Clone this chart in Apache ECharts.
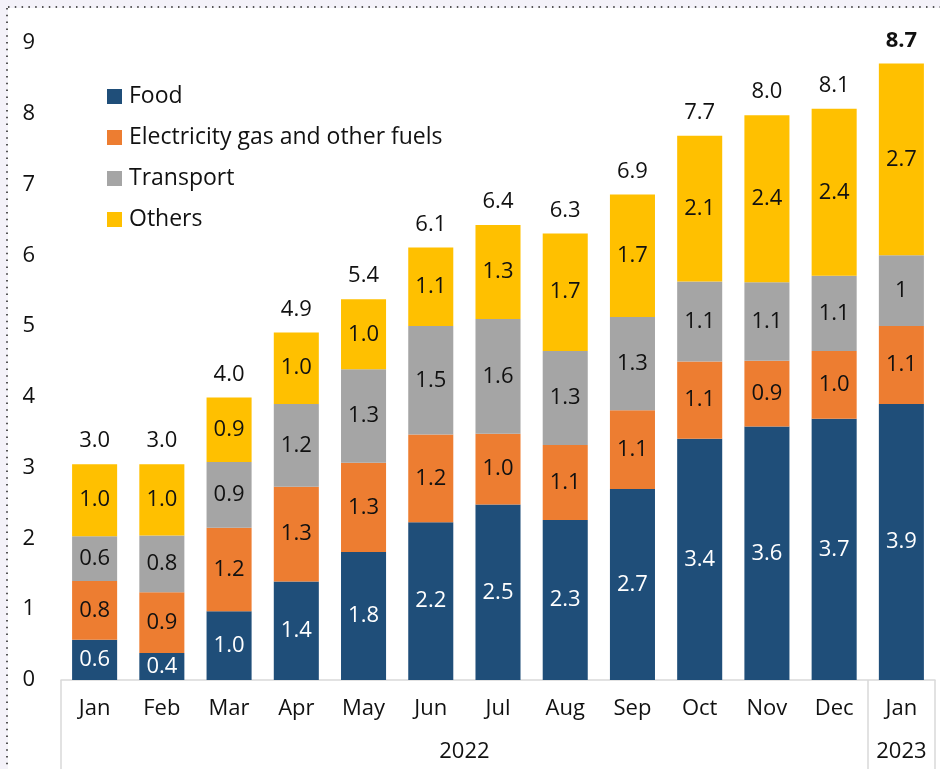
<!DOCTYPE html>
<html>
<head>
<meta charset="utf-8">
<title>chart</title>
<script src="https://cdn.jsdelivr.net/npm/echarts@6/dist/echarts.min.js"></script>
<style>
  html, body { margin: 0; padding: 0; background: #f4f2f9; }
  #main { width: 940px; height: 769px; }
</style>
</head>
<body>
<div id="main"></div>
<script>
// ==================================================
// data
var months = ['Jan', 'Feb', 'Mar', 'Apr', 'May', 'Jun', 'Jul', 'Aug', 'Sep', 'Oct', 'Nov', 'Dec', 'Jan'];
var years = ['2022', '2023'];
var yearMonthCount = [12, 1];

var food = [0.57, 0.38, 0.97, 1.39, 1.81, 2.23, 2.48, 2.26, 2.70, 3.41, 3.58, 3.69, 3.90];
var elec = [0.83, 0.86, 1.18, 1.34, 1.26, 1.24, 1.00, 1.06, 1.11, 1.09, 0.93, 0.96, 1.10];
var transport = [0.63, 0.80, 0.93, 1.17, 1.32, 1.53, 1.62, 1.33, 1.32, 1.13, 1.11, 1.06, 1.00];
var others = [1.02, 1.01, 0.91, 1.01, 0.99, 1.11, 1.33, 1.66, 1.73, 2.06, 2.36, 2.36, 2.71];
var totals = ['3.0', '3.0', '4.0', '4.9', '5.4', '6.1', '6.4', '6.3', '6.9', '7.7', '8.0', '8.1', '8.7'];

var seriesNames = ['Food', 'Electricity gas and other fuels', 'Transport', 'Others'];
var colors = ['#1f4e79', '#ed7d31', '#a5a5a5', '#ffc000'];

var FONT = '"Open Sans", "Noto Sans", sans-serif';
var FS = 22;

// ==================================================
// year groups -> boundaries + label centers
var yearStart = [];
var yearCenter = {};
var acc = 0;
for (var y = 0; y < years.length; y++) {
  yearStart.push(acc);
  yearCenter[acc + yearMonthCount[y] / 2] = years[y];
  acc += yearMonthCount[y];
}

// 分段标签
function segLabel(color) {
  return {
    show: true,
    position: 'inside',
    color: color,
    fontSize: FS,
    fontFamily: FONT,
    formatter: function (p) {
      // Jan 2023 transport is shown as "1" in the source
      if (p.seriesName === 'Transport' && p.dataIndex === months.length - 1) return '1';
      return p.value.toFixed(1);
    }
  };
}

var series = [];
var vals = [food, elec, transport, others];
for (var s = 0; s < vals.length; s++) {
  series.push({
    name: seriesNames[s],
    type: 'bar',
    stack: 'total',
    barCategoryGap: '33%',
    itemStyle: { color: colors[s] },
    label: segLabel(s === 0 ? '#ffffff' : '#111111'),
    data: vals[s]
  });
}

// total on top
series.push({
  name: 'Total',
  type: 'bar',
  stack: 'total',
  itemStyle: { color: 'transparent' },
  label: {
    show: true,
    position: 'top',
    distance: 12,
    color: '#111111',
    fontSize: FS,
    fontFamily: FONT,
    formatter: function (p) { return totals[p.dataIndex]; }
  },
  data: totals.map(function (t, i) {
    var item = { value: 0 };
    if (i === totals.length - 1) item.label = { fontWeight: 'bold' };
    return item;
  })
});

var chart = echarts.init(document.getElementById('main'));

chart.setOption({
  animation: false,
  backgroundColor: 'transparent',
  textStyle: { fontFamily: FONT },
  graphic: [
    { type: 'rect', shape: { x: 8, y: 8, width: 940, height: 769 }, style: { fill: '#ffffff' }, silent: true, z: -10 },
    { type: 'line', shape: { x1: 8, y1: 7, x2: 940, y2: 7 }, style: { stroke: '#555', lineWidth: 2, lineDash: [1.5, 5.3] }, silent: true },
    { type: 'line', shape: { x1: 7, y1: 8, x2: 7, y2: 769 }, style: { stroke: '#555', lineWidth: 2, lineDash: [1.5, 5.3] }, silent: true }
  ],
  legend: {
    data: seriesNames,
    orient: 'vertical',
    left: 102,
    top: 80,
    itemWidth: 15,
    itemHeight: 15,
    itemGap: 18,
    selectedMode: false,
    icon: 'rect',
    textStyle: { fontSize: 23, color: '#111111', fontFamily: FONT, padding: [0, 0, 0, 2] }
  },
  grid: { left: 61, right: 5, top: 43, bottom: 89, containLabel: false },
  xAxis: [
    {
      type: 'category',
      data: months,
      axisLine: { show: true, lineStyle: { color: '#d9d9d9', width: 1.5 } },
      axisTick: {
        show: true,
        length: 90,
        lineStyle: { color: '#d9d9d9', width: 1.5 },
        interval: function (index) { return yearStart.indexOf(index) >= 0; }
      },
      axisLabel: { color: '#111111', fontSize: FS, margin: 18, interval: 0, fontFamily: FONT }
    },
    {
      type: 'value',
      position: 'bottom',
      min: 0,
      max: months.length,
      interval: 0.5,
      axisLine: { show: false },
      axisTick: { show: false },
      splitLine: { show: false },
      axisLabel: {
        color: '#111111',
        fontSize: FS,
        margin: 61,
        fontFamily: FONT,
        showMinLabel: true,
        showMaxLabel: true,
        formatter: function (v) { return yearCenter[v] || ''; }
      }
    }
  ],
  yAxis: {
    type: 'value',
    min: 0,
    max: 9,
    interval: 1,
    axisLine: { show: false },
    axisTick: { show: false },
    splitLine: { show: false },
    axisLabel: { color: '#111111', fontSize: FS, margin: 26, fontFamily: FONT }
  },
  series: series
});
</script>
</body>
</html>
